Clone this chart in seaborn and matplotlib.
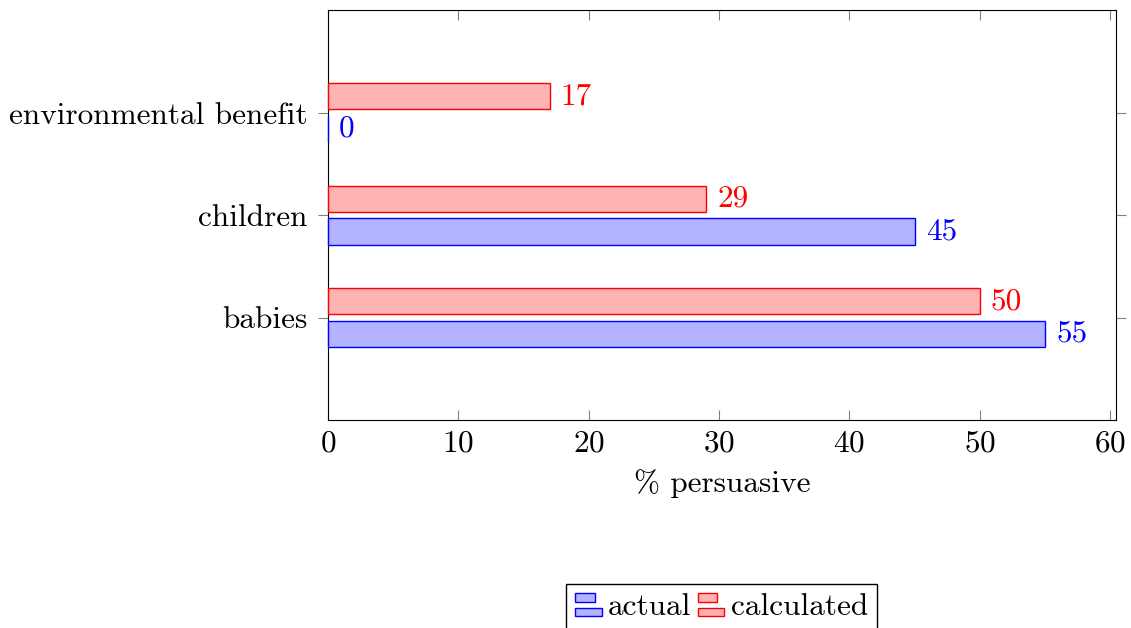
import matplotlib
matplotlib.use("Agg")
import matplotlib.pyplot as plt
import seaborn as sns
import pandas as pd
from matplotlib.patches import Rectangle
from matplotlib.legend_handler import HandlerBase

categories = ["environmental benefit", "children", "babies"]
actual = [0, 45, 55]
calculated = [17, 29, 50]
series = ["calculated", "actual"]
xticks = [0, 10, 20, 30, 40, 50, 60]

fills = {"actual": "#b3b3ff", "calculated": "#ffb3b3"}
edges = {"actual": "blue", "calculated": "red"}

df = pd.DataFrame({
    "category": categories * 2,
    "series": ["actual"] * 3 + ["calculated"] * 3,
    "value": actual + calculated,
})

sns.set_style("white")
plt.rcParams["font.family"] = ["cmr10", "DejaVu Serif"]
plt.rcParams["axes.formatter.use_mathtext"] = True
plt.rcParams["font.size"] = 22
plt.rcParams["text.color"] = "black"
plt.rcParams["axes.labelcolor"] = "black"
plt.rcParams["xtick.labelcolor"] = "black"
plt.rcParams["ytick.labelcolor"] = "black"

FS = 22.5


class TwoBarHandler(HandlerBase):
    def create_artists(self, legend, orig_handle, xdescent, ydescent,
                       width, height, fontsize, trans):
        fc = orig_handle.get_facecolor()
        ec = orig_handle.get_edgecolor()
        h = height * 0.4
        top = Rectangle((-xdescent, -ydescent + height * 0.6), width * 0.73, h,
                        facecolor=fc, edgecolor=ec, lw=1, transform=trans)
        bot = Rectangle((-xdescent, -ydescent - height * 0.05), width, h,
                        facecolor=fc, edgecolor=ec, lw=1, transform=trans)
        return [top, bot]


fig = plt.figure(figsize=(11.31, 6.28), dpi=100)
ax = fig.add_axes([0.29, 0.3312, 0.6967, 0.6528])

sns.barplot(data=df, x="value", y="category", hue="series", order=categories,
            hue_order=series, orient="h", width=0.64, gap=0.2, ax=ax,
            legend=False)

for cont, s in zip(ax.containers, series):
    for p in cont:
        p.set_facecolor(fills[s])
        p.set_edgecolor(edges[s])
        p.set_linewidth(1)
        p.set_zorder(3)
        p.set_clip_on(False)
    ax.bar_label(cont, labels=[str(int(v)) for v in cont.datavalues],
                 padding=8, color=edges[s], fontsize=FS)

ax.set_xlim(0, 60.45)
ax.set_ylim(3, -1)
ax.set_xticks(xticks)
ax.set_xlabel("% persuasive", fontsize=FS, labelpad=8)
ax.set_ylabel("")

for sp in ax.spines.values():
    sp.set_visible(True)
    sp.set_color("black")
    sp.set_linewidth(0.8)

ax.tick_params(axis="x", direction="in", length=7, width=0.8, color="grey",
               top=True, bottom=True, pad=7, labelsize=FS)
ax.tick_params(axis="y", direction="out", length=7, width=0.8, color="grey",
               left=True, right=True, pad=8, labelsize=FS)

handles = [Rectangle((0, 0), 1, 1, facecolor=fills[s], edgecolor=edges[s])
           for s in ["actual", "calculated"]]
fig.legend(handles, ["actual", "calculated"], ncol=2, loc="upper center",
           bbox_to_anchor=(0.638, 0.07), frameon=True, fancybox=False,
           edgecolor="black", framealpha=1, fontsize=FS,
           handler_map={Rectangle: TwoBarHandler()},
           handlelength=0.85, handletextpad=0.2, columnspacing=0.2,
           borderpad=0.3, borderaxespad=0)

fig.savefig("out.png", dpi=100)
